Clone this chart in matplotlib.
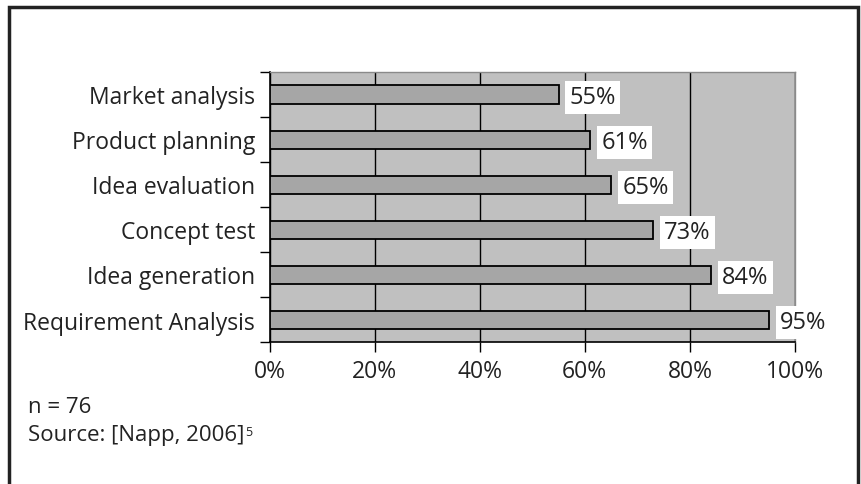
import matplotlib.pyplot as plt
from matplotlib.patches import Rectangle

plt.rcParams['font.family'] = ['Open Sans', 'DejaVu Sans']

# survey results, top row first
categories = ["Market analysis", "Product planning", "Idea evaluation",
              "Concept test", "Idea generation", "Requirement Analysis"]
shares = [55, 61, 65, 73, 84, 95]
xticks = [0, 20, 40, 60, 80, 100]
sample_note = "n = 76"
source_note = "Source: [Napp, 2006]"

FS = 16.5
INK = "#222222"

fig = plt.figure(figsize=(8.61, 4.85), dpi=100)
ax = fig.add_axes([269.5 / 861, 1 - 343 / 485, (795 - 269.5) / 861, (343 - 73) / 485])
ax.set_facecolor("#c0c0c0")

n = len(categories)
ypos = [n - 1 - i for i in range(n)]
ax.barh(ypos, shares, height=0.4, color="#a6a6a6", edgecolor="black",
        linewidth=1.3, zorder=3)

for y, v in zip(ypos, shares):
    ax.annotate(f"{v}%", xy=(v, y), xytext=(8, -2), textcoords="offset points",
                va="center", ha="left", fontsize=17, color=INK, zorder=4,
                bbox=dict(boxstyle="square,pad=0.18", fc="white", ec="none"))

ax.set_xlim(0, 100)
ax.set_ylim(-0.5, n - 0.5)
ax.set_xticks(xticks)
ax.set_xticklabels([f"{t}%" for t in xticks], fontsize=FS, color=INK)
ax.xaxis.grid(True, color="black", linewidth=1)
ax.set_axisbelow(True)
ax.tick_params(axis="x", length=7, width=1, pad=5)

ax.set_yticks(ypos)
ax.set_yticklabels(categories, fontsize=FS, color=INK)
ax.set_yticks([k - 0.5 for k in range(n + 1)], minor=True)
ax.tick_params(axis="y", which="major", length=0, pad=10.5)
ax.tick_params(axis="y", which="minor", length=7, width=1)

for side in ("top", "right"):
    ax.spines[side].set_color("#8a8a8a")
    ax.spines[side].set_linewidth(1)
for side in ("left", "bottom"):
    ax.spines[side].set_color("black")
    ax.spines[side].set_linewidth(1.2)

# outer frame, open at the bottom
fig.add_artist(Rectangle((9 / 861, -0.2), (858 - 9) / 861, 1.2 - 7.5 / 485,
                         transform=fig.transFigure, fill=False,
                         edgecolor=INK, linewidth=2.5))

fig.text(28 / 861, 1 - 413 / 485, sample_note, fontsize=16, color=INK,
         va="baseline", ha="left")
src = fig.text(28 / 861, 1 - 441 / 485, source_note, fontsize=16,
               color=INK, va="baseline", ha="left")
fig.canvas.draw()
ax.annotate("5", xy=(1, 0.95), xycoords=src, xytext=(0.5, 0),
            textcoords="offset points", fontsize=9, color=INK,
            va="top", ha="left", annotation_clip=False)

fig.savefig("out.png", dpi=100)
